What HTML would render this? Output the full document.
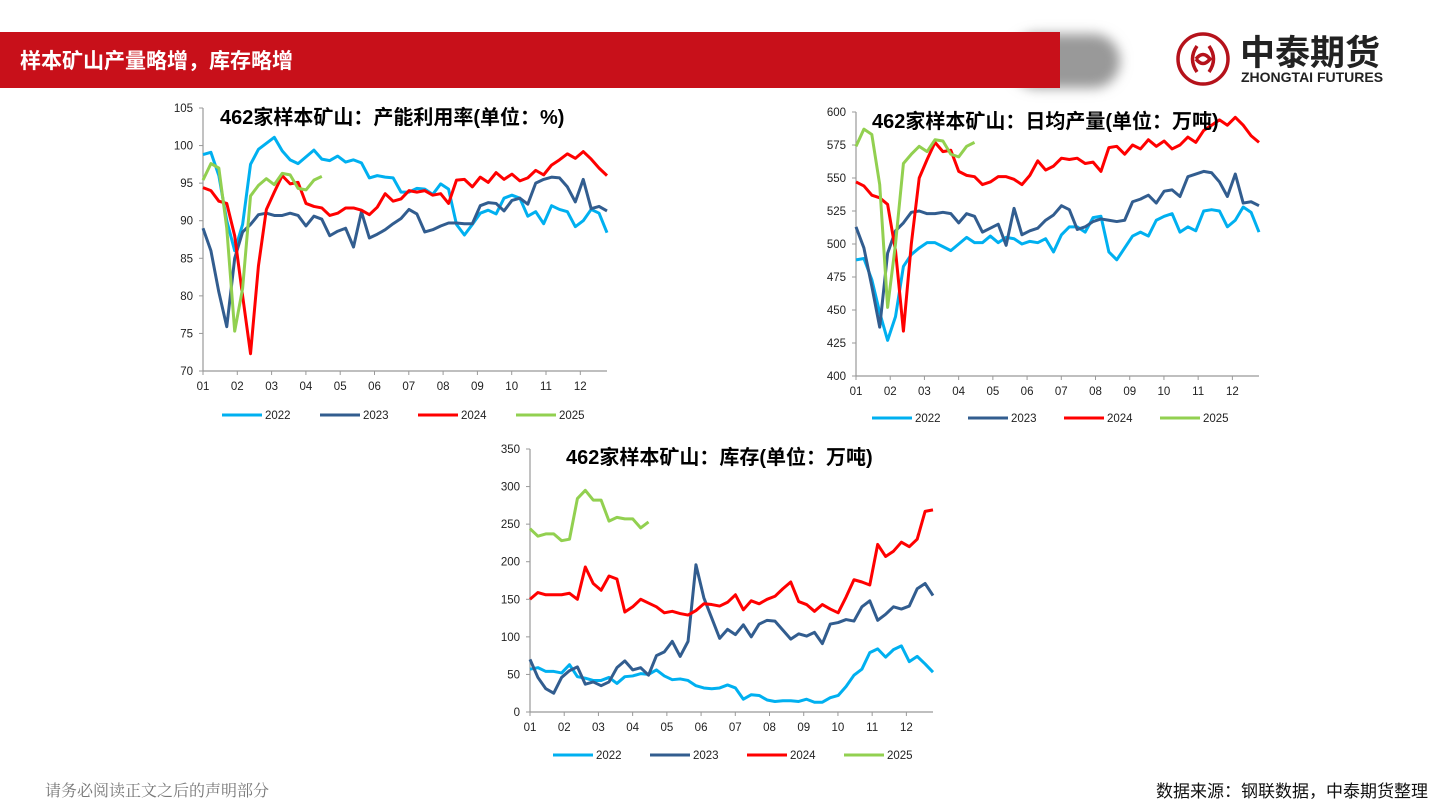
<!DOCTYPE html>
<html><head><meta charset="utf-8"><style>
body{margin:0;width:1440px;height:810px;overflow:hidden;background:#fff;font-family:"Liberation Sans","Noto Sans CJK SC",sans-serif}
svg{display:block}
</style></head><body>
<svg id="s" width="1440" height="810" xmlns="http://www.w3.org/2000/svg">
<defs><filter id="bl" x="-50%" y="-50%" width="200%" height="200%"><feGaussianBlur stdDeviation="6"/></filter></defs>
<g>
<rect x="1010" y="34" width="110" height="54" rx="27" fill="#999" filter="url(#bl)"/>
<rect x="0" y="32" width="1060" height="56" fill="#c8101a"/>
<text x="20" y="68" fill="#fff" font-size="21" font-weight="bold">样本矿山产量略增，库存略增</text>
<g>
<circle cx="1203" cy="59" r="25" fill="none" stroke="#b5121b" stroke-width="3.5"/>
<path d="M1197 46 Q1188 59 1197 72 M1209 46 Q1218 59 1209 72 M1196 59 Q1203 50 1210 59 Q1203 68 1196 59" fill="none" stroke="#b5121b" stroke-width="3.5"/>
<text x="1240" y="65" font-size="35" font-weight="bold" fill="#222">中泰期货</text>
<text x="1241" y="82" font-size="14" font-weight="bold" fill="#222">ZHONGTAI FUTURES</text>
</g></g>
<text x="45" y="796" font-size="16" fill="#777" font-family="'Noto Serif CJK SC',serif">请务必阅读正文之后的声明部分</text>
<text x="1428" y="797" font-size="17" fill="#111" text-anchor="end">数据来源：钢联数据，中泰期货整理</text>
</svg>
<script>
const months=["01","02","03","04","05","06","07","08","09","10","11","12"];
const years=["2022","2023","2024","2025"];
const colors=["#00b0f0","#325d8f","#ff0000","#92d050"];
const util2022=[98.8,99.1,96,90,86,89.5,97.5,99.5,100.3,101.1,99.3,98.1,97.6,98.5,99.4,98.2,98,98.6,97.8,98.1,97.7,95.7,96,95.8,95.7,93.8,93.8,94.3,94.2,93.5,94.9,94.2,89.5,88.1,89.5,91,91.4,90.9,93,93.4,93,90.6,91.2,89.6,92,91.5,91.2,89.2,90,91.5,91,88.4];
const util2023=[89,86,80.5,75.9,85,88.5,89.5,90.8,91,90.7,90.7,91,90.7,89.3,90.6,90.2,88,88.6,89,86.5,91.2,87.7,88.2,88.8,89.6,90.3,91.5,90.9,88.5,88.8,89.3,89.7,89.7,89.6,89.6,92,92.4,92.3,91.3,92.7,93,92.2,95,95.5,95.8,95.7,94.5,92.5,95.5,91.6,91.9,91.3];
const util2024=[94.4,94,92.6,92.3,88,80,72.3,84,91.5,93.8,96,94.9,95.1,92.3,91.9,91.7,90.7,91,91.7,91.7,91.4,90.8,91.8,93.6,92.6,92.9,94,93.8,94,93.4,93.6,92.3,95.4,95.5,94.5,95.8,95.1,96.4,95.5,96.2,95.3,95.7,96.7,96.1,97.4,98.1,98.9,98.3,99.2,98.2,97,96];
const util2025=[95.4,97.6,97,89,75.3,81,93.3,94.7,95.6,94.8,96.3,96.1,94.3,94.1,95.4,95.9];
const utilTicks=[70,75,80,85,90,95,100,105];
const prod2022=[488,489,473,448,427,445,483,492,497,501,501,498,495,500,505,501,501,506,501,505,504,500,502,501,504,494,507,513,513,509,520,521,494,488,497,506,509,506,518,521,523,509,513,510,525,526,525,513,518,528,524,509];
const prod2023=[513,497,468,437,493,510,516,524,525,523,523,524,523,516,523,521,509,512,515,499,527,507,510,512,518,522,529,526,511,513,517,519,518,517,518,532,534,537,531,540,541,536,551,553,555,554,547,536,553,531,532,529];
const prod2024=[547,544,537,535,530,495,434,500,550,564,577,570,571,555,552,551,545,547,551,551,549,545,552,563,556,559,565,564,565,561,562,555,573,574,568,575,572,579,574,578,572,575,581,577,586,590,594,590,596,590,582,577];
const prod2025=[574,587,583,545,452,500,561,568,574,570,579,578,568,566,574,577];
const prodTicks=[400,425,450,475,500,525,550,575,600];
const inv2022=[57,59,54,54,52,63,47,45,42,42,46,38,47,48,51,50,56,48,43,44,42,35,32,31,32,36,32,17,23,22,16,14,15,15,14,17,13,13,19,22,34,49,57,79,84,73,83,88,67,74,64,53];
const inv2023=[70,46,31,25,46,55,60,37,40,35,40,59,68,56,59,49,75,80,94,74,94,196,152,125,98,110,103,116,100,117,122,121,109,97,104,101,106,91,117,119,123,121,140,148,122,130,140,137,141,164,171,155];
const inv2024=[150,159,156,156,156,158,150,193,171,162,181,177,133,140,150,145,140,132,134,131,129,135,144,143,141,146,156,136,148,144,150,154,164,173,147,143,134,143,137,132,153,176,173,169,223,207,214,226,220,230,267,269];
const inv2025=[244,234,237,237,228,230,284,295,282,282,254,259,257,257,245,253];
const invTicks=[0,50,100,150,200,250,300,350];

const NS="http://www.w3.org/2000/svg",S=document.getElementById('s');
function mk(t,a,p){const e=document.createElementNS(NS,t);for(const k in a)e.setAttribute(k,a[k]);(p||S).appendChild(e);return e;}
function chart(c){
  const g=mk('g',{});
  
  
  const lo=c.ticks[0],hi=c.ticks[c.ticks.length-1];
  const X=i=>c.x0+(c.x1-c.x0)*i/51;
  const Y=v=>c.yb-(c.yb-c.yt)*(v-lo)/(hi-lo);
  const ax=mk('line',{x1:c.x0,y1:c.yt,x2:c.x0,y2:c.yb,stroke:'#999','stroke-width':1.2},g);
  
  
  const bx=mk('line',{x1:c.x0,y1:c.yb,x2:c.x1,y2:c.yb,stroke:'#999','stroke-width':1.2},g);
  
  
  c.ticks.forEach(v=>{
    mk('line',{x1:c.x0-4,x2:c.x0,y1:Y(v),y2:Y(v),stroke:'#999'},g);
    const t=mk('text',{x:c.x0-10,y:Y(v)+4,'font-size':11.5,'text-anchor':'end',fill:'#222'},g);
    t.textContent=v;
    
    
  });
  months.forEach((m,k)=>{
    const x=X(k*4.33);
    mk('line',{x1:x,x2:x,y1:c.yb,y2:c.yb+4,stroke:'#999'},g);
    const t=mk('text',{x:x,y:c.yb+19,'font-size':11.5,'text-anchor':'middle',fill:'#222'},g);
    t.textContent=m;
    
    
  });
  c.series.forEach((d,si)=>{
    const p=mk('polyline',{points:d.map((v,i)=>X(i)+','+Y(v)).join(' '),fill:'none',stroke:colors[si],'stroke-width':3,'stroke-linejoin':'round'},g);
    
    
  });
  const tt=mk('text',{x:c.tx,y:c.ty,'font-size':20,'font-weight':'bold',fill:'#000'},g);
  tt.textContent=c.title;
  
  
  years.forEach((yr,si)=>{
    const lx=c.lx+si*c.ld;
    const l=mk('line',{x1:lx,x2:lx+40,y1:c.ly,y2:c.ly,stroke:colors[si],'stroke-width':3},g);
    
    
    const t=mk('text',{x:lx+43,y:c.ly+4,'font-size':11.5,fill:'#222'},g);
    t.textContent=yr;
    
    
  });
}
chart({name:'utilization-chart',x0:203,x1:607,yt:108,yb:371,ticks:utilTicks,series:[util2022,util2023,util2024,util2025],title:'462家样本矿山：产能利用率(单位：%)',tx:220,ty:124,lx:222,ld:98,ly:415});
chart({name:'daily-output-chart',x0:856,x1:1259,yt:112,yb:376,ticks:prodTicks,series:[prod2022,prod2023,prod2024,prod2025],title:'462家样本矿山：日均产量(单位：万吨)',tx:872,ty:128,lx:872,ld:96,ly:418});
chart({name:'inventory-chart',x0:530,x1:933,yt:449,yb:712,ticks:invTicks,series:[inv2022,inv2023,inv2024,inv2025],title:'462家样本矿山：库存(单位：万吨)',tx:566,ty:464,lx:553,ld:97,ly:755});
</script>
</body></html>
